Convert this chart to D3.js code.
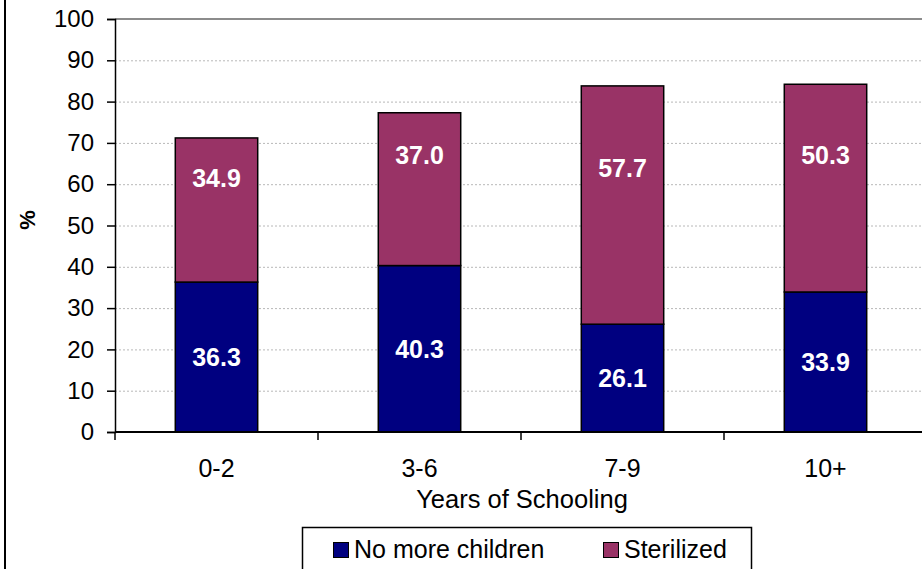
<!DOCTYPE html>
<html>
<head>
<meta charset="utf-8">
<script src="https://cdn.jsdelivr.net/npm/d3@7"></script>
<style>
  html, body { margin: 0; padding: 0; background: #fff; }
  svg { display: block; font-family: "Liberation Sans", Arial, sans-serif; }
</style>
</head>
<body>
<svg id="chart" width="922" height="569"></svg>
<script>
const categories = ["0-2", "3-6", "7-9", "10+"];
const noMoreChildren = [36.3, 40.3, 26.1, 33.9];
const sterilized = [34.9, 37.0, 57.7, 50.3];
const yTicks = [0, 10, 20, 30, 40, 50, 60, 70, 80, 90, 100];
const seriesNames = ["No more children", "Sterilized"];
// label anchor (in % units) used for the Sterilized value labels
const sterLabelAt = [61.4, 67.0, 63.9, 67.0];

const colors = { "No more children": "#000080", "Sterilized": "#993366" };

const svg = d3.select("#chart");
const pLeft = 115, pRight = 927, pTop = 19, pBottom = 432;

const x = d3.scaleBand().domain(categories).range([pLeft, pRight])
  .paddingInner(0.594).paddingOuter(0.297);
const y = d3.scaleLinear().domain([0, 100]).range([pBottom, pTop]);

// chart area left border
svg.append("line").attr("x1", 5).attr("x2", 5).attr("y1", 0).attr("y2", 569)
  .attr("stroke", "#000").attr("stroke-width", 2);

// gridlines
svg.append("g").selectAll("line").data(yTicks.filter(t => t > 0 && t < 100)).join("line")
  .attr("x1", pLeft).attr("x2", 922)
  .attr("y1", d => y(d) + 0.5).attr("y2", d => y(d) + 0.5)
  .attr("stroke", "#b8b8b8").attr("stroke-width", 1).attr("stroke-dasharray", "2,2");
// plot area top border
svg.append("line").attr("x1", pLeft).attr("x2", 922).attr("y1", y(100)).attr("y2", y(100))
  .attr("stroke", "#8c8c8c").attr("stroke-width", 2);

// stacked data
const stackData = categories.map((c, i) => ({ cat: c, "No more children": noMoreChildren[i], "Sterilized": sterilized[i] }));
const stacked = d3.stack().keys(seriesNames)(stackData);

const gBars = svg.append("g");
stacked.forEach(layer => {
  gBars.append("g").selectAll("rect").data(layer).join("rect")
    .attr("x", d => x(d.data.cat))
    .attr("width", x.bandwidth())
    .attr("y", d => y(d[1]))
    .attr("height", d => y(d[0]) - y(d[1]))
    .attr("fill", colors[layer.key])
    .attr("stroke", "#000").attr("stroke-width", 1.5);
});

// value labels
const gLab = svg.append("g").attr("fill", "#fff").attr("font-weight", "bold")
  .attr("font-size", 25).attr("text-anchor", "middle");
gLab.selectAll("text.nmc").data(stacked[0]).join("text").attr("class", "nmc")
  .attr("x", d => x(d.data.cat) + x.bandwidth() / 2)
  .attr("y", d => y((d[0] + d[1]) / 2))
  .attr("dy", "0.36em")
  .text(d => d3.format(".1f")(d[1] - d[0]));
gLab.selectAll("text.st").data(stacked[1]).join("text").attr("class", "st")
  .attr("x", d => x(d.data.cat) + x.bandwidth() / 2)
  .attr("y", (d, i) => y(sterLabelAt[i]))
  .attr("dy", "0.36em")
  .text(d => d3.format(".1f")(d[1] - d[0]));

// y axis
const yAxis = d3.axisLeft(y).tickValues(yTicks).tickSize(8).tickPadding(13).tickFormat(d3.format("d"));
const gy = svg.append("g").attr("transform", `translate(${pLeft},0)`).call(yAxis);
gy.select(".domain").attr("stroke", "#000").attr("stroke-width", 1.5);
gy.selectAll(".tick line").attr("stroke", "#000").attr("stroke-width", 1.5);
gy.selectAll(".tick text").attr("font-size", 24).attr("fill", "#000")
  .attr("font-family", "Liberation Sans, Arial, sans-serif");

// x axis line + boundary ticks
svg.append("line").attr("x1", pLeft).attr("x2", 922).attr("y1", pBottom).attr("y2", pBottom)
  .attr("stroke", "#000").attr("stroke-width", 2);
const bounds = categories.map(c => x(c) - x.step() * x.paddingOuter());
svg.append("g").selectAll("line").data(bounds).join("line")
  .attr("x1", d => d).attr("x2", d => d).attr("y1", pBottom).attr("y2", pBottom + 8)
  .attr("stroke", "#000").attr("stroke-width", 1.5);
svg.append("g").selectAll("text").data(categories).join("text")
  .attr("x", d => x(d) + x.bandwidth() / 2).attr("y", 477)
  .attr("text-anchor", "middle").attr("font-size", 25).attr("fill", "#000")
  .text(d => d);

// axis titles
svg.append("text").attr("x", 522).attr("y", 508).attr("text-anchor", "middle")
  .attr("font-size", 25.5).attr("fill", "#000").text("Years of Schooling");
svg.append("text").attr("transform", "translate(35,220) rotate(-90)")
  .attr("text-anchor", "middle").attr("font-size", 22).attr("font-weight", "bold")
  .attr("fill", "#000").text("%");

// legend
const lg = svg.append("g");
lg.append("rect").attr("x", 302.5).attr("y", 527.5).attr("width", 449).attr("height", 60)
  .attr("fill", "#fff").attr("stroke", "#000").attr("stroke-width", 1.5);
const legendX = [333, 603];
seriesNames.forEach((s, i) => {
  lg.append("rect").attr("x", legendX[i] + 0.5).attr("y", 542.5).attr("width", 15).attr("height", 15)
    .attr("fill", colors[s]).attr("stroke", "#000").attr("stroke-width", 1);
  lg.append("text").attr("x", legendX[i] + 21).attr("y", 558).attr("font-size", 25)
    .attr("fill", "#000").text(s);
});
</script>
</body>
</html>
